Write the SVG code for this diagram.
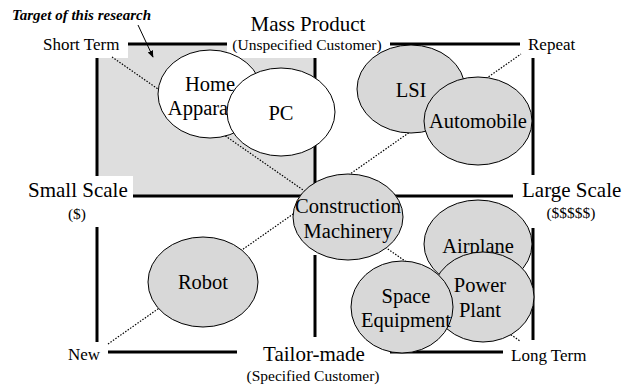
<svg xmlns="http://www.w3.org/2000/svg" width="629" height="385" viewBox="0 0 629 385" font-family="'Liberation Serif', 'Times New Roman', serif">
  <defs>
    <style>
      text { font-family: "Liberation Serif", "Times New Roman", serif; fill: #000; }
      .big { font-family: "Liberation Serif", "Times New Roman", serif; font-size: 21px; }
      .lbl { font-family: "Liberation Serif", "Times New Roman", serif; font-size: 17px; }
      .sub { font-family: "Liberation Serif", "Times New Roman", serif; font-size: 15.5px; }
      .node { font-family: "Liberation Serif", "Times New Roman", serif; font-size: 20.5px; text-anchor: middle; }
      .frame { stroke: #000; stroke-width: 3; fill: none; }
      .dot { stroke: #000; stroke-width: 1.2; stroke-dasharray: 1.5 1.5; fill: none; }
      .gray { fill: #d8d8d8; stroke: #000; stroke-width: 1; }
      .white { fill: #fff; stroke: #000; stroke-width: 1; }
    </style>
    <marker id="arrowhead" viewBox="0 0 10 10" refX="9" refY="5" markerWidth="7" markerHeight="7" orient="auto">
      <path d="M0,1 L10,5 L0,9 z" fill="#000"/>
    </marker>
  </defs>

  <rect width="629" height="385" fill="#fff"/>

  <!-- shaded target quadrant -->
  <rect x="97" y="44" width="218" height="152" fill="#dedede"/>
  <!-- white label backgrounds -->
  <rect x="36" y="30" width="92" height="28" fill="#fff"/>
  <rect x="0" y="176" width="133" height="51" fill="#fff"/>
  <rect x="227" y="0" width="163" height="58" fill="#fff"/>

  <!-- quadrant frame -->
  <g id="frame" class="frame">
    <line x1="128" y1="44" x2="227" y2="44"/>
    <line x1="390" y1="44" x2="520" y2="44"/>
    <line x1="133" y1="196" x2="312" y2="196"/>
    <line x1="393" y1="196" x2="513" y2="196"/>
    <line x1="108" y1="352" x2="237" y2="352"/>
    <line x1="390" y1="352" x2="503" y2="352"/>
    <line x1="97" y1="58" x2="97" y2="176"/>
    <line x1="97" y1="227" x2="97" y2="342"/>
    <line x1="315" y1="58" x2="315" y2="193"/>
    <line x1="315" y1="255" x2="315" y2="337"/>
    <line x1="533" y1="58" x2="533" y2="175"/>
    <line x1="533" y1="228" x2="533" y2="340"/>
  </g>

  <!-- connectors: dotted diagonals and the annotation arrow -->
  <g id="connectors">
    <line class="dot" x1="112" y1="57" x2="520" y2="341"/>
    <line class="dot" x1="108" y1="344" x2="521" y2="54"/>
    <line x1="138" y1="25" x2="153" y2="57" stroke="#000" stroke-width="1" marker-end="url(#arrowhead)"/>
  </g>

  <!-- product nodes -->
  <g id="home-apparatus">
    <ellipse class="white" cx="210" cy="94" rx="52" ry="44"/>
    <text class="node" x="210" y="91">Home</text>
    <text class="node" x="210" y="115">Apparatus</text>
  </g>
  <g id="pc">
    <ellipse class="white" cx="281" cy="112" rx="54" ry="44"/>
    <text class="node" x="281" y="120">PC</text>
  </g>
  <g id="lsi">
    <ellipse class="gray" cx="411" cy="89" rx="54" ry="44"/>
    <text class="node" x="411" y="97">LSI</text>
  </g>
  <g id="automobile">
    <ellipse class="gray" cx="478" cy="121" rx="54" ry="44"/>
    <text class="node" x="478" y="128">Automobile</text>
  </g>
  <g id="construction-machinery">
    <ellipse class="gray" cx="348" cy="217" rx="55" ry="43"/>
    <text class="node" x="348" y="213">Construction</text>
    <text class="node" x="348" y="238">Machinery</text>
  </g>
  <g id="robot">
    <ellipse class="gray" cx="203" cy="282" rx="55" ry="45"/>
    <text class="node" x="203" y="289">Robot</text>
  </g>
  <g id="airplane">
    <ellipse class="gray" cx="478" cy="244" rx="54" ry="44"/>
    <text class="node" x="478" y="253">Airplane</text>
  </g>
  <g id="power-plant">
    <ellipse class="gray" cx="483" cy="297" rx="51" ry="45"/>
    <text class="node" x="480" y="292">Power</text>
    <text class="node" x="480" y="317">Plant</text>
  </g>
  <g id="space-equipment">
    <ellipse class="gray" cx="402" cy="307" rx="51" ry="46"/>
    <text class="node" x="406" y="303">Space</text>
    <text class="node" x="406" y="327">Equipment</text>
  </g>

  <!-- axis labels -->
  <g id="labels">
    <text x="12" y="20" style="font-size:15px;font-weight:bold;font-style:italic">Target of this research</text>
    <text class="lbl" x="43" y="50">Short Term</text>
    <text class="big" x="308" y="31" text-anchor="middle">Mass Product</text>
    <text class="sub" x="307" y="50" text-anchor="middle">(Unspecified Customer)</text>
    <text class="lbl" x="528" y="50">Repeat</text>
    <text class="big" x="28" y="197">Small Scale</text>
    <text class="sub" x="77" y="219" text-anchor="middle">($)</text>
    <text class="big" x="522" y="197">Large Scale</text>
    <text class="sub" x="571" y="218" text-anchor="middle">($$$$$)</text>
    <text class="lbl" x="68" y="360">New</text>
    <text class="big" x="314" y="361" text-anchor="middle">Tailor-made</text>
    <text class="sub" x="313" y="381" text-anchor="middle">(Specified Customer)</text>
    <text class="lbl" x="511" y="361">Long Term</text>
  </g>
</svg>
